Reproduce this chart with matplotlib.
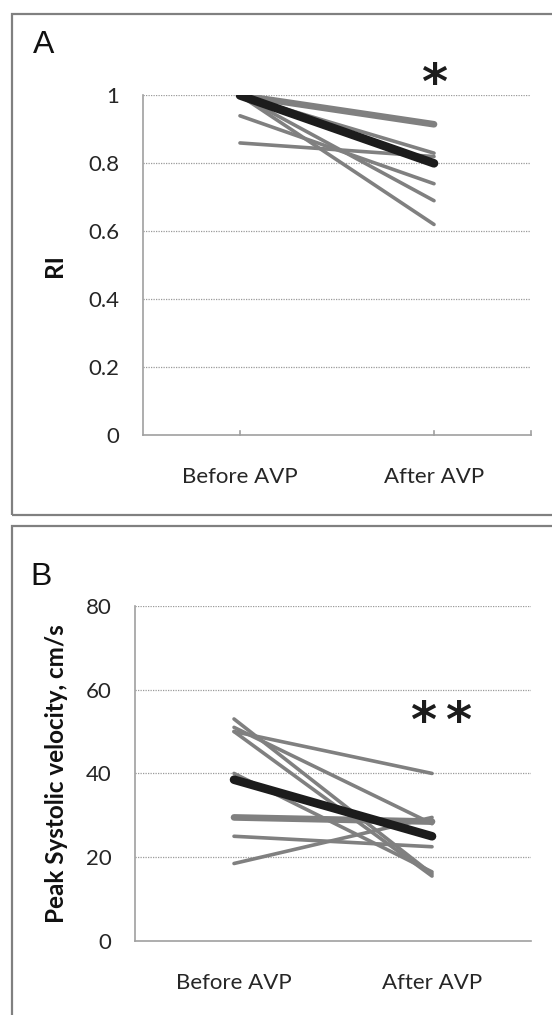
import numpy as np
import matplotlib
matplotlib.use("Agg")
import matplotlib.pyplot as plt
from matplotlib.patches import Rectangle

# categories
groups = ["Before AVP", "After AVP"]

# panel A: resistive index per subject (before, after)
ri_before = [1.00, 1.00, 0.94, 0.86, 1.00, 1.00]
ri_after = [0.915, 0.83, 0.74, 0.82, 0.69, 0.62]
ri_thick = [True, False, False, False, False, False]
ri_mean = [1.00, 0.80]

# panel B: peak systolic velocity per subject, cm/s
psv_before = [53, 51, 50, 50, 40, 29.5, 25, 18.5]
psv_after = [16, 28, 40, 15.5, 16.5, 28.5, 22.5, 29.5]
psv_thick = [False, False, False, False, False, True, False, False]
psv_mean = [38.5, 25]

GRAY = "#808080"
TICK_FONT = ["Lato", "DejaVu Sans"]

fig = plt.figure(figsize=(5.52, 10.15), dpi=100)

# panel frames (right / bottom edges run off the canvas)
fig.patches.append(Rectangle((0.021, 0.4926), 1.2, 0.4936, transform=fig.transFigure,
                             fill=False, edgecolor=GRAY, linewidth=1.6))
fig.patches.append(Rectangle((0.021, -0.1), 1.2, 0.5818, transform=fig.transFigure,
                             fill=False, edgecolor=GRAY, linewidth=1.6))


def draw_panel(ax, before, after, thick, mean, ymax, ystep, ylabel, yfmt):
    x = np.arange(1, len(groups) + 1)
    for b, a, t in zip(before, after, thick):
        ax.plot(x, [b, a], color=GRAY, linewidth=4.8 if t else 2.6,
                solid_capstyle="round", zorder=2)
    ax.plot(x, mean, color="#1c1c1c", linewidth=6.2, solid_capstyle="round", zorder=3)

    ax.set_xlim(0.5, 2.5)
    ax.set_ylim(0, ymax)
    yt = np.arange(0, ymax + ystep / 2, ystep)
    ax.set_yticks(yt)
    ax.set_yticklabels([yfmt(v) for v in yt], family=TICK_FONT, fontsize=16, color="#262626")
    ax.set_xticks(x)
    ax.set_xticklabels(groups, family=TICK_FONT, fontsize=16, color="#262626")
    ax.tick_params(axis="y", length=0, pad=17)
    ax.tick_params(axis="x", length=0, pad=23)
    for v in yt[1:]:
        ax.axhline(v, color="#9a9a9a", linewidth=0.9, linestyle=(0, (1, 1)), zorder=1)

    for s in ["top", "right"]:
        ax.spines[s].set_visible(False)
    for s in ["left", "bottom"]:
        ax.spines[s].set_color("#a0a0a0")
        ax.spines[s].set_linewidth(1.2)
    ax.set_ylabel(ylabel, family=["Lato", "DejaVu Sans"], fontweight="bold",
                  fontsize=17.5, color="#111111")


# panel A
axA = fig.add_axes([0.259, 0.5714, 0.703, 0.3346])
draw_panel(axA, ri_before, ri_after, ri_thick, ri_mean, 1.0, 0.2, "RI",
           lambda v: "0" if v == 0 else ("1" if v == 1 else f"{v:.1f}"))
axA.yaxis.set_label_coords(-0.198, 0.5)
# small inward ticks on category axis (Excel style)
for xv in [1, 2, 2.5]:
    axA.plot([xv, xv], [0, 0.013], color="#a0a0a0", linewidth=1.2, clip_on=False)
axA.text(2, 0.96, "*", ha="center", va="bottom", fontsize=36, fontweight="bold",
         color="#1c1c1c")
fig.text(0.060, 0.9557, "A", family="Liberation Sans", fontsize=23, color="#111111",
         ha="left", va="center")

# panel B
axB = fig.add_axes([0.2446, 0.0729, 0.7174, 0.3302])
draw_panel(axB, psv_before, psv_after, psv_thick, psv_mean, 80, 20,
           "Peak Systolic velocity, cm/s", lambda v: f"{v:.0f}")
axB.yaxis.set_label_coords(-0.17, 0.5)
for dx in [-0.088, 0.088]:
    axB.text(2.045 + dx, 46.4, "*", ha="center", va="bottom", fontsize=36,
             fontweight="bold", color="#1c1c1c")
fig.text(0.055, 0.432, "B", family="Liberation Sans", fontsize=23, color="#111111",
         ha="left", va="center")

fig.savefig("out.png", dpi=100)
